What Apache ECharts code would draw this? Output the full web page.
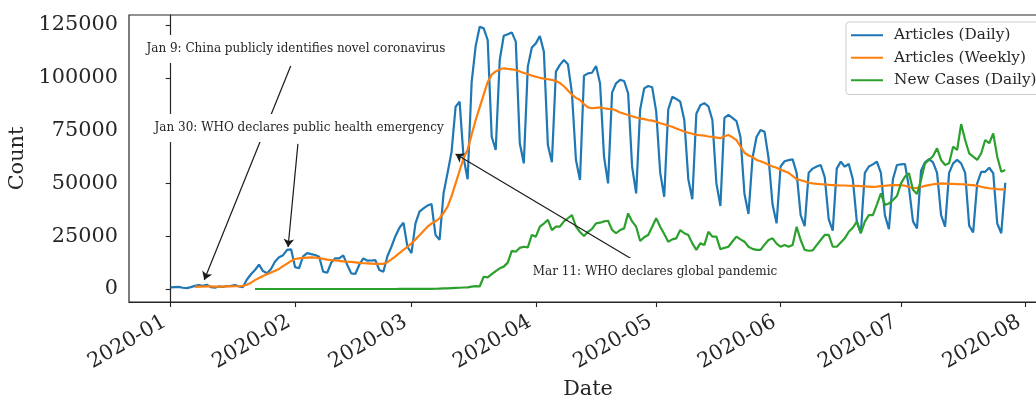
<!DOCTYPE html>
<html><head><meta charset="utf-8">
<script src="https://cdn.jsdelivr.net/npm/echarts@6/dist/echarts.min.js"></script>
<style>html,body{margin:0;padding:0;background:#fff}#chart{width:1036px;height:398px}</style>
</head><body><div id="chart"></div>
<script>
// ---------------- DATA ----------------
const startDate = '2020-01-01';           // day 0 of every series
const seriesNames = ['Articles (Daily)', 'Articles (Weekly)', 'New Cases (Daily)'];

// Articles per day, 2020-01-01 .. 2020-07-27
const articlesDaily = [
  800, 900, 1000, 600, 400, 900, 1500, 1800, 1500, 2000,
  900, 600, 1200, 1000, 1400, 1500, 1900, 1200, 900, 4500,
  7000, 9000, 11500, 8500, 7500, 9500, 13000, 15000, 16000, 18500,
  18800, 10300, 9900, 15500, 17000, 16500, 16100, 15300, 8200, 7700,
  12500, 14500, 14500, 15900, 11400, 7400, 7100, 11500, 14500, 13400,
  13500, 13700, 9000, 8200, 15500, 20000, 25000, 29000, 31400, 20000,
  17000, 31100, 36600, 38200, 39500, 40250, 25500, 23300, 45300, 55000,
  65000, 86300, 88700, 62000, 52000, 98000, 115000, 124200, 123400, 117900,
  72100, 65800, 108400, 119900, 120600, 121500, 117100, 69000, 59500, 105300,
  114300, 116300, 119800, 112400, 68200, 60000, 102900, 106100, 108400, 106400,
  92700, 61100, 51600, 101000, 102100, 102400, 105600, 97400, 62600, 50000,
  93000, 97400, 99000, 98500, 92700, 57900, 45300, 85000, 95000, 96100,
  95500, 84000, 55000, 43700, 85000, 91000, 90000, 88700, 80000, 52000,
  42500, 83000, 87000, 88000, 86500, 80000, 50000, 39300, 81000, 82400,
  81000, 79500, 72000, 45000, 35500, 62000, 72000, 75300, 74500, 62000,
  40000, 31100, 58000, 60500, 61000, 61400, 55000, 35000, 29800, 55000,
  57000, 58000, 58700, 53000, 33000, 27600, 57000, 60300, 57900, 59200,
  52000, 32000, 26400, 55000, 58000, 59000, 60300, 55000, 35000, 28300,
  52000, 58700, 59000, 59200, 48000, 32000, 28700, 56000, 60000, 61500,
  60000, 55000, 35000, 29500, 55000, 59500, 61100, 59500, 55000, 30000,
  26800, 50000, 55500, 55500, 57400, 54800, 31000, 26400, 50300
];

// Weekly (7-day) article level, starting 2020-01-07
const weeklyStartDay = 6;
const articlesWeekly = [
  1000, 1100, 1150, 1200, 1200, 1150, 1150, 1150, 1200, 1250,
  1300, 1350, 1500, 2000, 3000, 4200, 5200, 6200, 7000, 7800,
  8600, 9500, 10800, 12000, 13300, 14200, 14500, 14700, 14900, 15000,
  14900, 14600, 14300, 13900, 13700, 13500, 13300, 13100, 12900, 12800,
  12600, 12400, 12200, 12100, 12000, 11900, 11850, 11900, 12700, 14000,
  15500, 17000, 18500, 20000, 21600, 23500, 25500, 27500, 29500, 31000,
  32000, 33500, 36000, 39000, 44000, 50000, 56000, 62000, 66000, 73000,
  80000, 86000, 92000, 98000, 101500, 103000, 104000, 104500, 104200, 104000,
  103700, 103000, 102300, 101800, 101000, 100500, 100000, 99600, 99300, 99000,
  98500, 97500, 96000, 94000, 92000, 90500, 89500, 87500, 86000, 85600,
  85800, 86000, 85600, 85300, 85200, 84500, 83600, 83000, 82400, 81800,
  81200, 80800, 80400, 80000, 79700, 79200, 78500, 78000, 77300, 76800,
  76000, 75300, 74600, 74000, 73500, 73000, 72800, 72600, 72200, 72000,
  71700, 71400, 72300, 72900, 71800, 70500, 67500, 64500, 63200, 62500,
  61100, 60500, 59800, 58800, 58000, 57400, 56500, 55800, 55000, 53500,
  52000, 51500, 51000, 50300, 50000, 49800, 49600, 49500, 49300, 49200,
  49100, 49000, 49000, 48900, 48800, 48800, 48700, 48600, 48500, 48400,
  48500, 48700, 48900, 49100, 49200, 49200, 49200, 48900, 48300, 47700,
  47900, 48300, 48800, 49200, 49600, 49800, 50000, 49900, 49800, 49800,
  49700, 49600, 49500, 49300, 49200, 48800, 48400, 48000, 47700, 47500,
  47300, 47200, 47200
];

// New cases per day, starting 2020-01-22
const casesStartDay = 21;
const newCases = [
  0, 0, 0, 0, 0, 0, 0, 0, 0, 0, 0, 0, 0, 0, 0, 0, 0, 0, 0, 0, 0, 0, 0, 0, 0, 0, 0, 0, 0,
  0, 0, 0, 0, 5, 10, 10, 15, 20, 20,
  20, 30, 40, 60, 80, 90, 130, 200, 250, 300,
  400, 500, 600, 700, 800, 1100, 1400, 1200, 5800, 5500,
  7000, 8500, 9800, 10600, 12500, 18100, 17650, 19500, 20000, 19700,
  25600, 24800, 29500, 31000, 32700, 27900, 29500, 29500, 32000, 33500,
  35000, 29500, 27000, 25100, 27100, 28500, 31100, 31400, 32000, 32300,
  28000, 26400, 27900, 28700, 35800, 32000, 29500, 22700, 24500, 25600,
  29500, 33500, 29500, 26000, 22400, 23500, 24000, 27900, 26400, 25600,
  21600, 18500, 21600, 20800, 27100, 24800, 24800, 18800, 19500, 20000,
  22500, 24800, 23500, 22400, 20000, 19000, 18500, 18500, 21000, 23200,
  24000, 21500, 20000, 20800, 20000, 20800, 29500, 23200, 18500, 18100,
  18300, 20800, 23200, 25600, 25600, 20000, 20000, 22000, 24000, 27100,
  29000, 31900, 26400, 31900, 35000, 35000, 40000, 45300, 39800, 40500,
  42100, 44000, 50000, 53200, 54800, 47000, 45000, 51600, 59500, 61100,
  63000, 66600, 61100, 58700, 59500, 67400, 65800, 78100, 70550, 64250,
  62650, 61100, 64250, 70550, 69000, 73700, 62650, 55500, 56300
];

const monthTicks = ['2020-01', '2020-02', '2020-03', '2020-04', '2020-05', '2020-06', '2020-07', '2020-08'];
const yTicks = [0, 25000, 50000, 75000, 100000, 125000];

// annotation texts (day offset / value of text centre, arrow start and arrow tip)
const annotationTexts = [
  'Jan 9: China publicly identifies novel coronavirus',
  'Jan 30: WHO declares public health emergency',
  'Mar 11: WHO declares global pandemic'
];
const annotationTextAt = [[31.2, 113600], [32.0, 76200], [120.7, 8000]];
const annotationArrowFrom = [[29.9, 105600], [31.7, 68700], [114.9, 14200]];
const annotationArrowTo = [[8.35, 4300], [29.25, 19900], [71.0, 63900]];

// ---------------- CHART ----------------
const DAY = 86400000;
const t0 = Date.parse(startDate + 'T00:00:00Z');
const monthDays = monthTicks.map(m => Math.round((Date.parse(m + '-01T00:00:00Z') - t0) / DAY));
const xMin = -10.4, xMax = 218.4;
const yMin = -6155, yMax = 129735;
const FONT = 'DejaVu Serif';
const TXT = '#262626';
const LW = 2.2;

const chart = echarts.init(document.getElementById('chart'), null, {renderer: 'canvas'});
chart.setOption({
  backgroundColor: '#fff',
  animation: false,
  textStyle: {fontFamily: FONT},
  grid: {left: 129, top: 15, width: 918, height: 287, containLabel: false, outerBoundsMode: 'none',
         show: true, borderColor: TXT, borderWidth: 1.2, backgroundColor: 'transparent'},
  legend: {
    data: seriesNames, orient: 'vertical', left: 846, top: 22,
    padding: [5, 4, 6, 5], itemGap: 6, itemWidth: 32, itemHeight: 2, icon: 'rect',
    borderColor: '#cccccc', borderWidth: 1, borderRadius: 3, backgroundColor: 'rgba(255,255,255,0.8)',
    textStyle: {fontFamily: FONT, fontSize: 15.3, color: TXT, lineHeight: 16.5, padding: [0, 0, 0, 6]}
  },
  xAxis: {
    type: 'value', min: xMin, max: xMax,
    axisLine: {onZero: false, show: true, lineStyle: {color: TXT, width: 1.2}},
    axisTick: {show: true, length: 5, lineStyle: {color: TXT, width: 1.1}, customValues: monthDays},
    axisLabel: {
      customValues: monthDays, rotate: 30, margin: 15, padding: [0, 7, 0, 0],
      fontFamily: FONT, fontSize: 20.8, color: TXT,
      formatter: v => monthTicks[monthDays.indexOf(Math.round(v))] || ''
    },
    splitLine: {show: false},
    name: 'Date', nameLocation: 'middle', nameGap: 73,
    nameTextStyle: {fontFamily: FONT, fontSize: 20.8, color: TXT}
  },
  yAxis: {
    type: 'value', min: yMin, max: yMax,
    axisLine: {show: true, lineStyle: {color: TXT, width: 1.2}},
    axisTick: {show: true, length: 5, lineStyle: {color: TXT, width: 1.1}, customValues: yTicks},
    axisLabel: {customValues: yTicks, margin: 11, padding: [4, 0, 0, 0], fontFamily: FONT, fontSize: 20.8, color: TXT, formatter: v => String(v)},
    splitLine: {show: false},
    name: 'Count', nameLocation: 'middle', nameGap: 94,
    nameTextStyle: {fontFamily: FONT, fontSize: 20.8, color: TXT}
  },
  series: [
    {name: seriesNames[0], type: 'line', symbol: 'none', z: 2, color: '#1f77b4',
     lineStyle: {width: LW, color: '#1f77b4'},
     data: articlesDaily.map((v, i) => [i, v])},
    {name: seriesNames[1], type: 'line', symbol: 'none', z: 2, color: '#ff7f0e',
     lineStyle: {width: LW, color: '#ff7f0e'},
     data: articlesWeekly.map((v, i) => [weeklyStartDay + i, v])},
    {name: seriesNames[2], type: 'line', symbol: 'none', z: 2, color: '#2ca02c',
     lineStyle: {width: LW, color: '#2ca02c'},
     data: newCases.map((v, i) => [casesStartDay + i, v])},
    {type: 'line', data: [], z: 3, silent: true,
     markLine: {
       silent: true, symbol: ['none', 'arrow'], symbolSize: 8, animation: false,
       lineStyle: {color: '#1a1a1a', width: 1.2, type: 'solid'}, label: {show: false},
       data: annotationArrowFrom.map((f, i) => [
         {coord: [f[0], f[1]]},
         {coord: [annotationArrowTo[i][0], annotationArrowTo[i][1]]}
       ])
     }},
    {type: 'line', data: [], z: 4, silent: true,
     markPoint: {
       silent: true, symbol: 'rect', symbolSize: 1, animation: false,
       itemStyle: {color: 'rgba(0,0,0,0)'},
       label: {show: true, position: 'inside', fontFamily: FONT, fontSize: 12, color: TXT,
               backgroundColor: '#fff', padding: [7, 3], lineHeight: 14},
       data: annotationTexts.map((t, i) => ({
         coord: [annotationTextAt[i][0], annotationTextAt[i][1]],
         value: t, label: {formatter: t}
       }))
     }}
  ]
});
</script></body></html>
